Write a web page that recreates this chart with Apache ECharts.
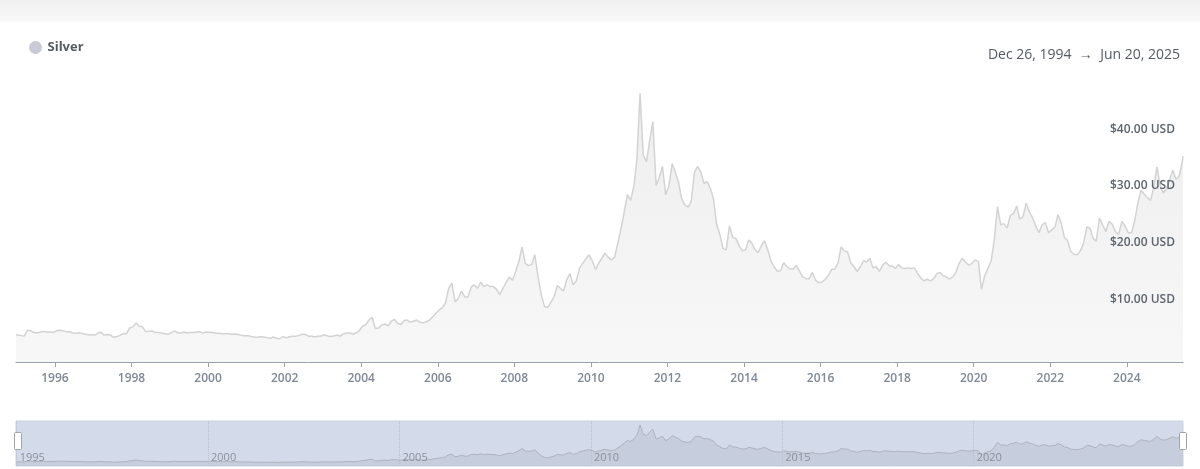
<!DOCTYPE html>
<html>
<head>
<meta charset="utf-8">
<title>Silver</title>
<script src="https://cdn.jsdelivr.net/npm/echarts@6/dist/echarts.min.js"></script>
<style>
html, body { margin: 0; padding: 0; background: #fff; }
#chart { width: 1200px; height: 469px; }
</style>
</head>
<body>
<div id="chart"></div>
<script>
// 月度价格 USD/oz（每年12个点，取自图上读数）
var s1995 = [4.75, 4.65, 4.6, 5.6, 5.5, 5.2, 5.1, 5.3, 5.4, 5.3, 5.3, 5.2];
var s1996 = [5.5, 5.6, 5.5, 5.4, 5.35, 5.15, 5.05, 5.15, 5.05, 4.9, 4.8, 4.8];
var s1997 = [4.75, 5.1, 5.25, 4.75, 4.85, 4.75, 4.35, 4.5, 4.7, 5.0, 5.0, 6.0];
var s1998 = [6.2, 6.9, 6.3, 6.2, 5.4, 5.4, 5.5, 5.2, 5.2, 5.1, 5.0, 4.9];
var s1999 = [5.15, 5.5, 5.2, 5.05, 5.3, 5.1, 5.2, 5.2, 5.3, 5.35, 5.1, 5.3];
var s2000 = [5.25, 5.2, 5.05, 5.05, 5.0, 5.0, 5.0, 4.9, 4.95, 4.85, 4.7, 4.65];
var s2001 = [4.65, 4.5, 4.4, 4.35, 4.45, 4.4, 4.3, 4.2, 4.4, 4.2, 4.1, 4.5];
var s2002 = [4.25, 4.45, 4.55, 4.55, 4.65, 4.9, 4.9, 4.55, 4.55, 4.45, 4.55, 4.6];
var s2003 = [4.8, 4.6, 4.5, 4.6, 4.75, 4.55, 4.95, 5.1, 5.1, 4.95, 5.15, 5.55];
var s2004 = [6.3, 6.6, 7.4, 7.9, 5.9, 6.0, 6.5, 6.7, 6.4, 7.2, 7.5, 6.8];
var s2005 = [6.6, 7.3, 7.4, 7.0, 7.2, 7.4, 7.0, 6.9, 7.1, 7.4, 8.0, 8.6];
var s2006 = [9.2, 9.6, 10.4, 13.0, 13.9, 10.6, 11.2, 12.5, 11.5, 11.4, 13.2, 13.6];
var s2007 = [13.0, 14.1, 13.3, 13.6, 13.3, 13.3, 12.8, 11.9, 13.0, 14.0, 15.0, 14.4];
var s2008 = [16.0, 17.8, 20.3, 17.4, 17.0, 17.2, 18.9, 15.0, 11.8, 9.8, 9.6, 10.5];
var s2009 = [11.5, 13.5, 13.0, 12.5, 14.5, 15.6, 13.6, 14.3, 16.6, 17.4, 18.2, 18.9];
var s2010 = [17.8, 16.3, 17.4, 18.3, 19.2, 18.5, 18.0, 18.5, 21.0, 23.5, 26.5, 29.5];
var s2011 = [28.5, 31.0, 35.5, 47.4, 36.5, 35.3, 39.0, 42.4, 31.2, 32.5, 34.5, 29.5];
var s2012 = [31.0, 35.0, 33.5, 31.8, 28.8, 27.7, 27.3, 28.3, 33.5, 34.5, 33.5, 31.5];
var s2013 = [31.8, 30.5, 28.8, 24.2, 22.5, 20.0, 19.8, 24.0, 22.0, 21.8, 20.5, 19.6];
var s2014 = [19.8, 21.5, 21.0, 19.8, 19.3, 20.5, 21.4, 19.8, 17.8, 16.8, 16.0, 16.1];
var s2015 = [17.5, 16.8, 16.4, 16.4, 17.0, 16.0, 15.0, 14.7, 14.7, 15.8, 14.4, 14.0];
var s2016 = [14.1, 14.6, 15.3, 16.3, 16.4, 17.4, 20.3, 19.6, 19.4, 17.5, 16.8, 16.0];
var s2017 = [16.8, 17.9, 17.6, 18.3, 16.6, 16.8, 16.0, 17.1, 17.6, 17.0, 16.9, 16.5];
var s2018 = [17.2, 16.6, 16.5, 16.6, 16.5, 16.6, 15.6, 14.8, 14.3, 14.6, 14.3, 14.7];
var s2019 = [15.6, 15.8, 15.2, 15.0, 14.6, 15.0, 15.8, 17.4, 18.3, 17.6, 17.1, 17.4];
var s2020 = [18.0, 17.7, 12.8, 15.2, 16.5, 17.8, 21.5, 27.4, 24.2, 24.4, 23.6, 25.8];
var s2021 = [26.2, 27.5, 25.2, 25.6, 28.0, 26.5, 25.5, 24.0, 22.8, 24.2, 24.6, 22.8];
var s2022 = [23.3, 23.8, 26.0, 24.5, 22.0, 21.4, 19.5, 19.0, 18.9, 19.6, 21.0, 23.8];
var s2023 = [23.6, 21.8, 21.3, 25.4, 24.2, 23.0, 24.8, 24.3, 23.0, 22.5, 24.8, 24.0];
var s2024 = [22.8, 22.8, 24.8, 28.0, 30.3, 29.6, 29.0, 28.5, 30.9, 34.4, 31.0, 29.8];
var s2025 = [30.6, 32.3, 33.8, 32.2, 32.8, 35.5];

var dataYears = [1995, 1996, 1997, 1998, 1999, 2000, 2001, 2002, 2003, 2004, 2005, 2006, 2007, 2008, 2009, 2010,
	2011, 2012, 2013, 2014, 2015, 2016, 2017, 2018, 2019, 2020, 2021, 2022, 2023, 2024, 2025];
var yearRows = [s1995, s1996, s1997, s1998, s1999, s2000, s2001, s2002, s2003, s2004, s2005, s2006, s2007, s2008,
	s2009, s2010, s2011, s2012, s2013, s2014, s2015, s2016, s2017, s2018, s2019, s2020, s2021, s2022, s2023, s2024, s2025];

// 首尾两点（区间起止）
var startDate = '1994-12-26', startValue = 4.8;
var endDate = '2025-06-20', endValue = 36.3;

// 刻度
var axisYears = [1996, 1998, 2000, 2002, 2004, 2006, 2008, 2010, 2012, 2014, 2016, 2018, 2020, 2022, 2024];
var navYears = [1995, 2000, 2005, 2010, 2015, 2020];
var priceTicks = [10, 20, 30, 40];

var FONT = '"Open Sans", "Noto Sans", sans-serif';

function toTime(str) {
	var p = str.split('-');
	return Date.UTC(+p[0], +p[1] - 1, +p[2]);
}
function yearStart(y) {
	return Date.UTC(y, 0, 1);
}
function yearLabel(v) {
	return '' + new Date(v).getUTCFullYear();
}

var seriesData = [[toTime(startDate), startValue]];
for (var i = 0; i < dataYears.length; i++) {
	var row = yearRows[i];
	for (var m = 0; m < row.length; m++) {
		seriesData.push([Date.UTC(dataYears[i], m, 15), row[m]]);
	}
}
seriesData.push([toTime(endDate), endValue]);

var chart = echarts.init(document.getElementById('chart'), null, { renderer: 'canvas' });

var option = {
	animation: false,
	backgroundColor: '#ffffff',
	textStyle: { fontFamily: FONT },
	title: {
		text: 'Dec 26, 1994  \u2192  Jun 20, 2025',
		right: 15,
		top: 43,
		textStyle: { fontFamily: FONT, fontSize: 14, fontWeight: 'normal', color: '#555a61' }
	},
	legend: {
		left: 24,
		top: 36,
		icon: 'circle',
		itemWidth: 14,
		itemHeight: 13,
		selectedMode: false,
		data: [{ name: 'Silver', itemStyle: { color: '#c8cad5', borderWidth: 0 } }],
		textStyle: { fontFamily: FONT, fontSize: 13, fontWeight: 'bold', color: '#555a61' }
	},
	graphic: [
		{
			type: 'rect', left: 0, top: 0, silent: true,
			shape: { width: 1200, height: 22 },
			style: {
				fill: new echarts.graphic.LinearGradient(0, 0, 0, 1, [
					{ offset: 0, color: '#f1f1f1' },
					{ offset: 1, color: '#f8f8f8' }
				])
			}
		},
		// 导航条左右把手
		{
			type: 'rect', left: 14, top: 432, silent: true, z: 100,
			shape: { width: 7, height: 17, r: 1 },
			style: { fill: '#ffffff', stroke: '#9ea4ae', lineWidth: 1 }
		},
		{
			type: 'rect', left: 1179, top: 432, silent: true, z: 100,
			shape: { width: 7, height: 17, r: 1 },
			style: { fill: '#ffffff', stroke: '#9ea4ae', lineWidth: 1 }
		}
	],
	grid: [
		{ left: 16, right: 17, top: 78.5, bottom: 107 },
		{
			left: 16, right: 17, top: 421, height: 45, show: true,
			backgroundColor: '#d3dbeb', borderColor: '#cbd2df', borderWidth: 1
		}
	],
	xAxis: [
		{
			type: 'value',
			gridIndex: 0,
			min: toTime(startDate),
			max: toTime(endDate),
			z: 10,
			axisLine: { onZero: false, lineStyle: { color: '#9aa2ad', width: 1 } },
			axisTick: {
				show: true, length: 5,
				lineStyle: { color: '#9aa2ad' },
				customValues: axisYears.map(yearStart)
			},
			axisLabel: {
				customValues: axisYears.map(yearStart),
				formatter: yearLabel,
				color: '#7f8996',
				fontSize: 12,
				fontWeight: 600,
				fontFamily: FONT,
				margin: 11
			},
			splitLine: { show: false }
		},
		{
			type: 'value',
			gridIndex: 1,
			min: toTime(startDate),
			max: toTime(endDate),
			z: 10,
			axisLine: { show: false, onZero: false },
			axisTick: { show: false, customValues: navYears.map(yearStart) },
			axisLabel: {
				inside: true,
				customValues: navYears.map(yearStart),
				formatter: yearLabel,
				align: 'left',
				padding: [0, 0, 0, 3],
				margin: 3,
				color: '#8b909a',
				fontSize: 11,
				fontFamily: FONT
			},
			splitLine: { show: true, lineStyle: { color: '#b9c1cf', type: 'dotted', width: 1 } }
		}
	],
	yAxis: [
		{
			type: 'value',
			gridIndex: 0,
			position: 'right',
			min: 0,
			max: 50,
			interval: 10,
			z: 10,
			axisLine: { show: false },
			axisTick: { show: false },
			splitLine: { show: false },
			axisLabel: {
				inside: true,
				margin: 8,
				verticalAlign: 'bottom',
				color: '#5d646e',
				fontSize: 12,
				fontWeight: 600,
				fontFamily: FONT,
				formatter: function (v) {
					if (priceTicks.indexOf(v) < 0) return '';
					return '$' + v.toFixed(2) + ' USD';
				}
			}
		},
		{
			type: 'value',
			gridIndex: 1,
			min: 0,
			max: 52,
			show: false
		}
	],
	series: [
		{
			name: 'Silver',
			type: 'line',
			xAxisIndex: 0,
			yAxisIndex: 0,
			data: seriesData,
			symbol: 'none',
			silent: true,
			itemStyle: { color: '#c8cad5' },
			lineStyle: { color: '#d3d3d3', width: 1.5 },
			areaStyle: {
				color: new echarts.graphic.LinearGradient(0, 0, 0, 1, [
					{ offset: 0, color: '#e7e7e7' },
					{ offset: 1, color: '#f4f4f4' }
				])
			},
			z: 2
		},
		{
			name: 'nav',
			type: 'line',
			xAxisIndex: 1,
			yAxisIndex: 1,
			data: seriesData,
			symbol: 'none',
			silent: true,
			lineStyle: { color: '#aeb3bd', width: 1 },
			areaStyle: { color: 'rgba(150,156,170,0.3)' }
		}
	]
};

chart.setOption(option);
</script>
</body>
</html>
